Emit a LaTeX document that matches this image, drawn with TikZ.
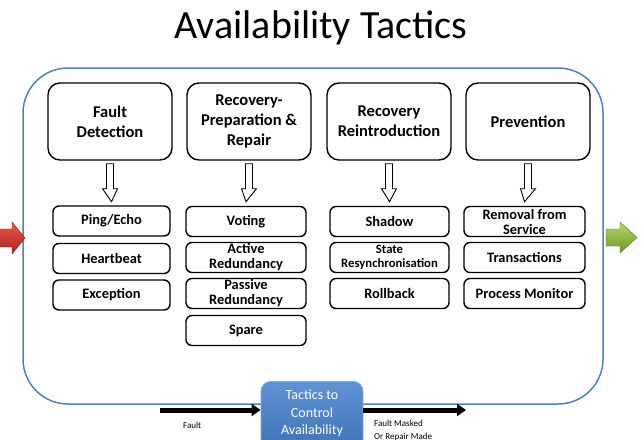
\documentclass[tikz,border=0pt]{standalone}
\usepackage{fontspec}
\setmainfont{Carlito}
\usetikzlibrary{calc,arrows.meta}
\definecolor{frameblue}{RGB}{79,129,189}
\definecolor{boxtop}{RGB}{96,146,212}
\definecolor{boxbot}{RGB}{58,108,178}
\definecolor{redA}{RGB}{236,90,80}
\definecolor{redB}{RGB}{170,30,25}
\definecolor{greenA}{RGB}{180,215,100}
\definecolor{greenB}{RGB}{110,150,40}
\tikzset{
  topbox/.style={draw=black, line width=1.4pt, rounded corners=12pt, minimum width=124pt, minimum height=77pt, align=center, font=\fontsize{16.5}{20}\selectfont\bfseries, fill=white},
  subbox/.style={draw=black, line width=1.4pt, rounded corners=6pt, minimum height=30pt, align=center, font=\fontsize{14.4}{16}\selectfont\bfseries, fill=white, inner sep=1pt},
  twoline/.style={font=\fontsize{14.4}{15}\selectfont\bfseries},
  hollow/.style={draw=black, line width=0.9pt, fill=white},
  flowarrow/.style={line width=5pt, -{Triangle[length=9pt,width=12pt]}},
  smalllabel/.style={font=\fontsize{9}{13}\selectfont, anchor=west, align=left, inner sep=0pt}
}
\begin{document}
\begin{tikzpicture}[x=1pt,y=-1pt]
\useasboundingbox (0,0) rectangle (644,439);
\clip (0,0) rectangle (644,439);
% title
\node[font=\fontsize{40}{44}\selectfont] (title) at (321,28) {Availability Tactics};
% frame
\draw[frameblue, line width=1.5pt, rounded corners=45pt] (23,68) rectangle (603,404);
% top boxes
\node[topbox] (fd) at (110,121.5) {Fault\\Detection};
\node[topbox] (rp) at (249,121.5) {Recovery-\\Preparation \&\\Repair};
\node[topbox] (rr) at (389,121.5) {Recovery\\Reintroduction};
\node[topbox] (pv) at (528,121.5) {Prevention};
% sub boxes column 1
\node[subbox, minimum width=117pt] (ping) at (111.5,221) {Ping/Echo};
\node[subbox, minimum width=117pt] (hb) at (111.5,258.5) {Heartbeat};
\node[subbox, minimum width=117pt] (ex) at (111.5,295) {Exception};
% column 2
\node[subbox, minimum width=120pt] (vot) at (246,221.5) {Voting};
\node[subbox, twoline, minimum width=120pt] (act) at (246,257.5) {Active\\Redundancy};
\node[subbox, twoline, minimum width=120pt] (pas) at (246,293.5) {Passive\\Redundancy};
\node[subbox, minimum width=120pt] (spa) at (246,330.5) {Spare};
% column 3
\node[subbox, minimum width=119pt] (sha) at (389.5,221.5) {Shadow};
\node[subbox, minimum width=119pt, font=\fontsize{12.7}{13.5}\selectfont\bfseries] (sta) at (389.5,257.5) {State\\Resynchronisation};
\node[subbox, minimum width=119pt] (rol) at (389.5,293.5) {Rollback};
% column 4
\node[subbox, twoline, minimum width=121pt] (rem) at (524.5,221.5) {Removal from\\Service};
\node[subbox, minimum width=121pt] (tra) at (524.5,257.5) {Transactions};
\node[subbox, minimum width=121pt] (pm) at (524.5,293.5) {Process Monitor};
% hollow arrows
\foreach \b/\s in {fd/ping, rp/vot, rr/sha, pv/rem}{
  \draw[hollow] ($(\b.south)+(-3.5,3)$) -- ($(\b.south)+(-3.5,28)$) -- ($(\b.south)+(-7.5,28)$)
    -- ($(\s.north |- \b.south)+(0,41)$) -- ($(\b.south)+(7.5,28)$) -- ($(\b.south)+(3.5,28)$)
    -- ($(\b.south)+(3.5,3)$) -- cycle;
}
% side arrows
\shade[top color=redA, bottom color=redB, draw=redB!80!black, line width=0.4pt]
  (-2,229) -- (12,229) -- (12,222) -- (25,238) -- (12,254) -- (12,247) -- (-2,247) -- cycle;
\shade[top color=greenA, bottom color=greenB, draw=greenB!80!black, line width=0.4pt]
  (606,229) -- (620,229) -- (620,222) -- (637,237.5) -- (620,253) -- (620,246) -- (606,246) -- cycle;
% bottom flow
\coordinate (fin) at (160,410);
\coordinate (fout) at (466,410);
\node[draw=frameblue!70!white, line width=0.8pt, rounded corners=10pt, top color=boxtop, bottom color=boxbot, minimum width=102pt, minimum height=80pt, anchor=north] (tc) at (312,381) {};
\node[text=white, align=center, font=\fontsize{14}{17.5}\selectfont] (tct) at (312,413.5) {Tactics to\\Control\\Availability};
\draw[flowarrow] (fin) -- (tc.west |- fin);
\draw[flowarrow] (tc.east |- fout) -- (fout);
\node[smalllabel] (fl) at (183,425) {Fault};
\node[smalllabel, anchor=north west] (fm) at (374,420) {Fault Masked\\Or Repair Made};
\end{tikzpicture}
\end{document}
